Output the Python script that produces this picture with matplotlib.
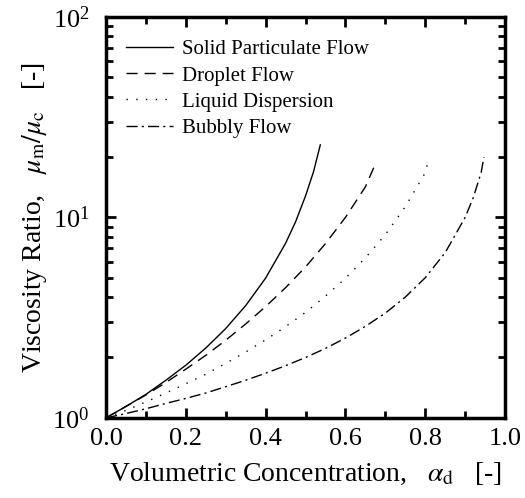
import matplotlib
matplotlib.use("Agg")
import matplotlib.pyplot as plt
from matplotlib.ticker import MultipleLocator, LogLocator, NullFormatter

plt.rcParams['font.family'] = ['Liberation Serif', 'DejaVu Serif']
plt.rcParams['mathtext.fontset'] = 'stix'

# values (x = volumetric concentration, y = viscosity ratio)
solid_x = [0.0, 0.05, 0.10, 0.15, 0.20, 0.25, 0.30, 0.35, 0.40, 0.45, 0.475, 0.50, 0.52, 0.537]
solid_y = [1.0, 1.14, 1.31, 1.54, 1.83, 2.23, 2.79, 3.63, 4.98, 7.43, 9.5, 12.8, 16.9, 23.0]

droplet_x = [0.0, 0.05, 0.10, 0.15, 0.20, 0.25, 0.30, 0.35, 0.40, 0.45, 0.50, 0.55, 0.60, 0.65, 0.675]
droplet_y = [1.0, 1.14, 1.30, 1.50, 1.75, 2.05, 2.44, 2.94, 3.59, 4.46, 5.66, 7.4, 10.0, 14.2, 18.5]

liquid_x = [0.0, 0.05, 0.10, 0.15, 0.20, 0.25, 0.30, 0.35, 0.40, 0.45, 0.50, 0.55, 0.60, 0.65, 0.70, 0.75, 0.80, 0.805]
liquid_y = [1.0, 1.09, 1.20, 1.33, 1.48, 1.65, 1.87, 2.13, 2.45, 2.85, 3.36, 4.05, 4.97, 6.28, 8.2, 11.3, 16.7, 18.3]

bubbly_x = [0.0, 0.05, 0.10, 0.15, 0.20, 0.25, 0.30, 0.35, 0.40, 0.45, 0.50, 0.55, 0.60, 0.65, 0.70, 0.75, 0.80, 0.85, 0.90, 0.92, 0.94, 0.947]
bubbly_y = [1.0, 1.05, 1.11, 1.18, 1.25, 1.33, 1.43, 1.54, 1.67, 1.82, 2.0, 2.22, 2.5, 2.86, 3.33, 4.0, 5.0, 6.67, 10.0, 12.5, 16.7, 20.0]

fig = plt.figure(figsize=(5.25, 4.98), dpi=100)
ax = fig.add_axes([0.202, 0.161, 0.760, 0.805])

ax.plot(solid_x, solid_y, color='black', lw=1.0, ls='-', label='Solid Particulate Flow')
ax.plot(droplet_x, droplet_y, color='black', lw=1.0, ls=(0, (8, 5)), label='Droplet Flow')
ax.plot(liquid_x, liquid_y, color='black', lw=1.0, ls=(0, (1, 6)), label='Liquid Dispersion')
ax.plot(bubbly_x, bubbly_y, color='black', lw=1.0, ls=(0, (8, 3, 1.5, 3)), label='Bubbly Flow')

ax.set_yscale('log')
ax.set_xlim(0, 1)
ax.set_ylim(1, 100)
ax.xaxis.set_major_locator(MultipleLocator(0.2))
ax.xaxis.set_minor_locator(MultipleLocator(0.1))
ax.xaxis.set_major_formatter(plt.FuncFormatter(lambda v, p: f"{v:.1f}"))
ax.yaxis.set_major_locator(LogLocator(base=10))
ax.yaxis.set_minor_locator(LogLocator(base=10, subs=range(2, 10)))
ax.yaxis.set_minor_formatter(NullFormatter())

ax.tick_params(which='both', direction='in', top=True, right=True, width=2, labelsize=19)
ax.tick_params(which='major', length=7)
ax.tick_params(which='minor', length=5)
ax.tick_params(axis='x', which='major', pad=7)
ax.tick_params(axis='y', which='major', pad=12)
for s in ax.spines.values():
    s.set_linewidth(2.5)

ax.set_xlabel(r'Volumetric Concentration,   $\alpha_{\rm d}$   [-]', fontsize=20, labelpad=8)
ax.set_ylabel(r'Viscosity Ratio,   $\mu_{\rm m}/\mu_{\rm c}$   [-]', fontsize=20, labelpad=2)

ax.legend(loc='upper left', bbox_to_anchor=(0.028, 0.964), borderaxespad=0,
          frameon=False, fontsize=15, handlelength=2.3,
          handletextpad=0.4, labelspacing=0.32)

fig.savefig('out.png', dpi=100)
